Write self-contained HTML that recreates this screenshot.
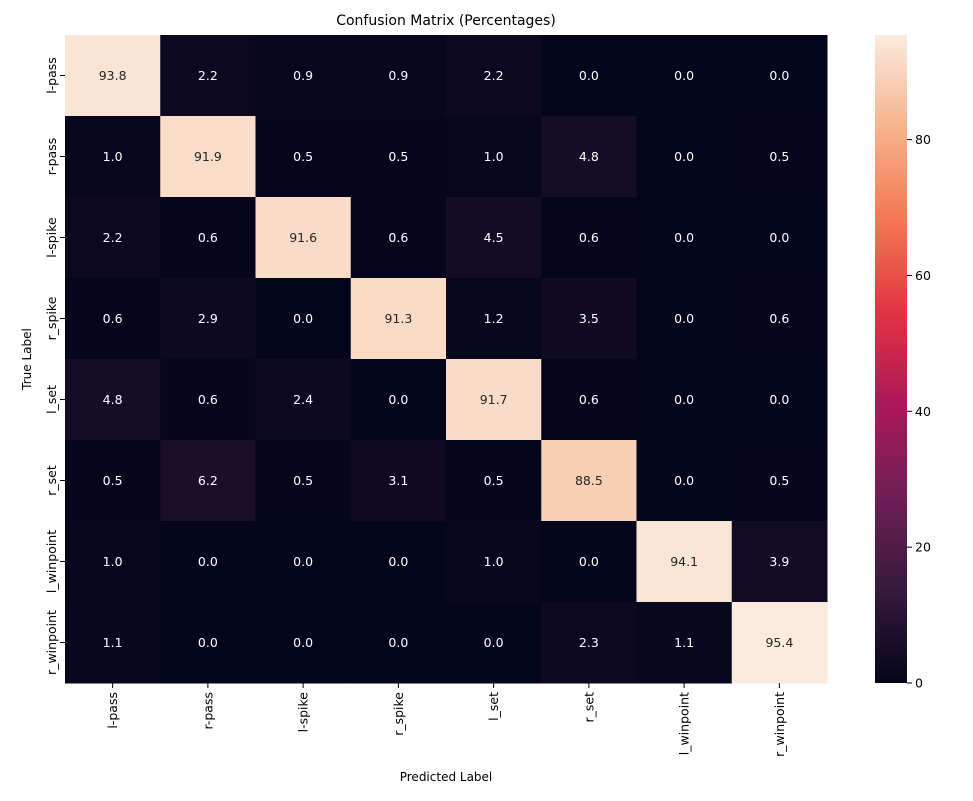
<!DOCTYPE html>
<html><head><meta charset="utf-8"><style>
body{margin:0;background:#fff;font-family:"Liberation Sans","DejaVu Sans",sans-serif;}
</style></head><body>
<svg id="chart" width="973" height="796" xmlns="http://www.w3.org/2000/svg" font-family="DejaVu Sans, Liberation Sans, sans-serif">
<defs><linearGradient id="cb" x1="0" y1="1" x2="0" y2="0"></linearGradient></defs>
<text x="446" y="25" font-size="14" text-anchor="middle">Confusion Matrix (Percentages)</text>
<g id="cells"></g><g id="axes"></g><g id="cbar"></g>
<text x="446" y="781" font-size="12" text-anchor="middle">Predicted Label</text>
<text transform="translate(31,359) rotate(-90)" font-size="12" text-anchor="middle">True Label</text>
</svg>
<script>
const labels=["l-pass","r-pass","l-spike","r_spike","l_set","r_set","l_winpoint","r_winpoint"];
const values=[
[93.8,2.2,0.9,0.9,2.2,0.0,0.0,0.0],
[1.0,91.9,0.5,0.5,1.0,4.8,0.0,0.5],
[2.2,0.6,91.6,0.6,4.5,0.6,0.0,0.0],
[0.6,2.9,0.0,91.3,1.2,3.5,0.0,0.6],
[4.8,0.6,2.4,0.0,91.7,0.6,0.0,0.0],
[0.5,6.2,0.5,3.1,0.5,88.5,0.0,0.5],
[1.0,0.0,0.0,0.0,1.0,0.0,94.1,3.9],
[1.1,0.0,0.0,0.0,0.0,2.3,1.1,95.4]];
const cbTicks=[0,20,40,60,80];
const NS="http://www.w3.org/2000/svg";
const X0=65,Y0=35,W=762,H=648,n=labels.length,cw=W/n,ch=H/n;
const vmin=0,vmax=Math.max(...values.flat());
const stops=[[0,"#03051a"],[0.14,"#35193e"],[0.29,"#701f57"],[0.43,"#ad1759"],[0.57,"#e13342"],[0.71,"#f37651"],[0.86,"#f6b48f"],[1,"#faebdd"]];
function hex(h){return [1,3,5].map(i=>parseInt(h.substr(i,2),16));}
function color(v){let t=(v-vmin)/(vmax-vmin);t=Math.max(0,Math.min(1,t));
for(let i=1;i<stops.length;i++){if(t<=stops[i][0]){const a=hex(stops[i-1][1]),b=hex(stops[i][1]);const f=(t-stops[i-1][0])/(stops[i][0]-stops[i-1][0]);
return "rgb("+a.map((x,k)=>Math.round(x+(b[k]-x)*f)).join(",")+")";}}return stops[stops.length-1][1];}
function el(t,a,p){const e=document.createElementNS(NS,t);for(const k in a)e.setAttribute(k,a[k]);p.appendChild(e);return e;}
const xs=j=>X0+j*cw, ys=i=>Y0+i*ch;
const cells=document.getElementById("cells"),axes=document.getElementById("axes"),cbar=document.getElementById("cbar");
values.forEach((row,i)=>row.forEach((v,j)=>{
 const r=el("rect",{x:xs(j),y:ys(i),width:cw+0.5,height:ch+0.5,fill:color(v)},cells);
 
 
 const t=el("text",{x:xs(j)+cw/2,y:ys(i)+ch/2+4.5,"font-size":12.5,"text-anchor":"middle",fill:(v-vmin)/(vmax-vmin)>0.5?"#262626":"#fff"},cells);
 t.textContent=v.toFixed(1);
 
 
}));
labels.forEach((l,k)=>{
 const cx=xs(k)+cw/2;
 el("line",{x1:cx,x2:cx,y1:Y0+H,y2:Y0+H+5,stroke:"#000"},axes);
 const tx=el("text",{transform:`translate(${cx+4.5},${Y0+H+9}) rotate(-90)`,"font-size":12.5,"text-anchor":"end"},axes);
 tx.textContent=l;
 
 
 const cy=ys(k)+ch/2;
 el("line",{x1:X0-5,x2:X0,y1:cy,y2:cy,stroke:"#000"},axes);
 const ty=el("text",{transform:`translate(${X0-9},${cy}) rotate(-90)`,"font-size":12.5,"text-anchor":"middle"},axes);
 ty.textContent=l;
 
 
});
const g=document.getElementById("cb");
stops.forEach(s=>el("stop",{offset:s[0],"stop-color":s[1]},g));
const CX=875,CW=32;
const cb=el("rect",{x:CX,y:Y0,width:CW,height:H,fill:"url(#cb)"},cbar);


cbTicks.forEach(v=>{
 const y=Y0+H-(v-vmin)/(vmax-vmin)*H;
 el("line",{x1:CX+CW,x2:CX+CW+5,y1:y,y2:y,stroke:"#000"},cbar);
 const t=el("text",{x:CX+CW+8,y:y+4.5,"font-size":12.5},cbar);
 t.textContent=v;
 
 
});
</script>
</body></html>
